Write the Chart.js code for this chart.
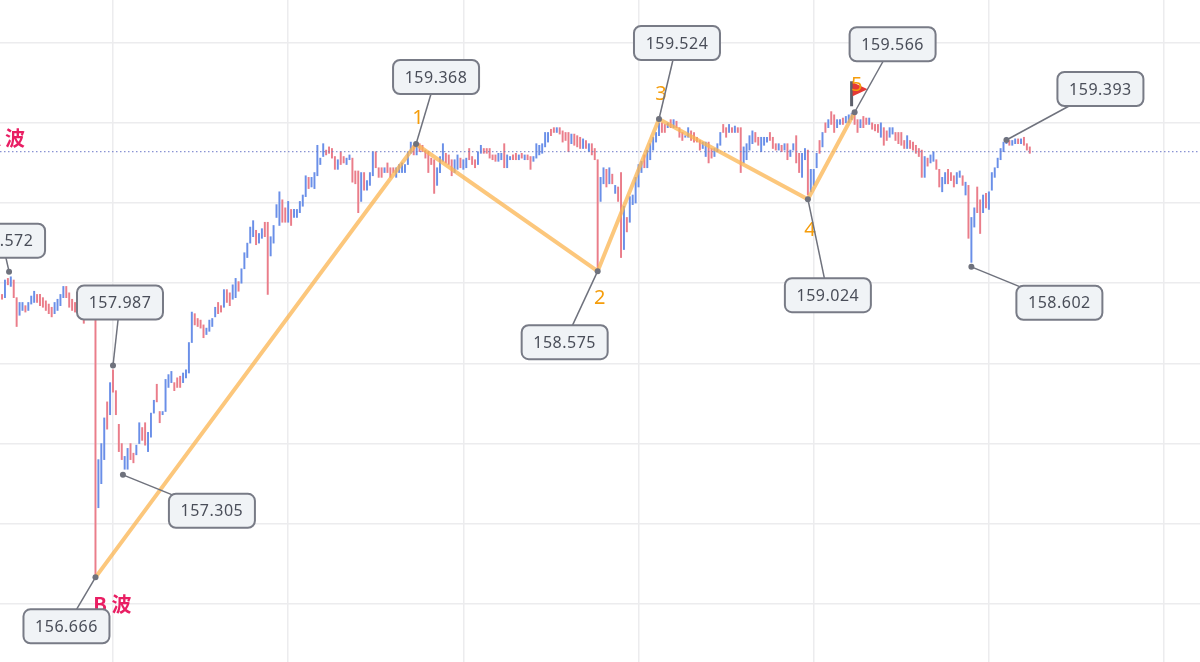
<!DOCTYPE html>
<html>
<head>
<meta charset="utf-8">
<style>
  html, body { margin: 0; padding: 0; background: #fff; overflow: hidden; }
  canvas { display: block; }
</style>
<script src="https://cdn.jsdelivr.net/npm/chart.js@4/dist/chart.umd.min.js"></script>
</head>
<body>
<canvas id="chart" width="1200" height="662"></canvas>
<script>
// candle index of the first bar on screen, one bar per index, each line holds 10 bars
const firstCandle = 22;

const highs = [
  158.43,158.52,158.53,158.54,158.52,158.41,158.38,158.38,158.36,158.38,
  158.42,158.45,158.43,158.43,158.41,158.39,158.37,158.35,158.38,158.40,
  158.43,158.48,158.48,158.44,158.40,158.38,158.37,158.42,158.36,158.36,
  158.38,158.35,158.31,157.40,157.50,157.66,157.76,157.88,157.96,157.83,
  157.62,157.50,157.42,157.47,157.50,157.44,157.49,157.63,157.60,157.63,
  157.57,157.69,157.77,157.87,157.70,157.70,157.90,157.93,157.95,157.88,
  157.91,157.92,157.94,157.96,158.13,158.32,158.31,158.28,158.27,158.24,
  158.22,158.27,158.28,158.35,158.38,158.36,158.46,158.46,158.44,158.49,
  158.53,158.51,158.59,158.69,158.75,158.85,158.89,158.83,158.81,158.84,
  158.88,158.88,158.79,158.86,158.99,159.07,159.02,158.97,159.01,158.96,
  158.96,158.96,159.01,159.05,159.17,159.16,159.16,159.19,159.36,159.28,
  159.37,159.33,159.35,159.34,159.29,159.27,159.32,159.29,159.28,159.30,
  159.28,159.20,159.20,159.19,159.19,159.14,159.19,159.32,159.32,159.22,
  159.22,159.22,159.25,159.22,159.22,159.22,159.24,159.25,159.24,159.32,
  159.38,159.36,159.35,159.37,159.36,159.33,159.32,159.28,159.27,159.22,
  159.29,159.37,159.31,159.30,159.27,159.27,159.30,159.28,159.27,159.28,
  159.34,159.29,159.27,159.32,159.36,159.34,159.34,159.34,159.30,159.30,
  159.31,159.31,159.37,159.30,159.29,159.30,159.31,159.30,159.31,159.30,
  159.30,159.29,159.29,159.37,159.36,159.37,159.44,159.44,159.46,159.47,
  159.47,159.47,159.45,159.44,159.44,159.43,159.43,159.42,159.41,159.40,
  159.39,159.37,159.37,159.34,159.27,159.16,159.22,159.21,159.22,159.18,
  159.11,159.10,159.19,158.98,158.91,159.04,159.05,159.16,159.24,159.26,
  159.30,159.33,159.37,159.41,159.44,159.50,159.50,159.49,159.50,159.52,
  159.52,159.51,159.47,159.44,159.42,159.47,159.45,159.44,159.41,159.39,
  159.38,159.38,159.38,159.34,159.34,159.37,159.44,159.49,159.47,159.49,
  159.47,159.48,159.47,159.47,159.35,159.37,159.42,159.45,159.44,159.41,
  159.41,159.41,159.41,159.44,159.41,159.37,159.37,159.36,159.37,159.37,
  159.33,159.37,159.42,159.31,159.31,159.34,159.33,159.21,159.21,159.31,
  159.39,159.44,159.50,159.52,159.57,159.55,159.52,159.52,159.53,159.54,
  159.55,159.56,159.57,159.52,159.52,159.54,159.53,159.53,159.50,159.49,
  159.49,159.50,159.47,159.45,159.47,159.47,159.44,159.44,159.44,159.39,
  159.42,159.39,159.38,159.36,159.34,159.33,159.29,159.28,159.30,159.32,
  159.27,159.21,159.16,159.19,159.21,159.19,159.17,159.19,159.20,159.17,
  159.13,159.11,158.91,158.97,159.10,159.02,159.05,159.06,159.07,159.19,
  159.22,159.28,159.34,159.38,159.41,159.39,159.39,159.40,159.40,159.40,
  159.41,159.37,159.35
];

const lows = [
  158.40,158.41,158.49,158.48,158.41,158.23,158.30,158.33,158.32,158.33,
  158.37,158.38,158.38,158.36,158.35,158.33,158.31,158.29,158.31,158.33,
  158.36,158.41,158.41,158.35,158.33,158.32,158.32,158.33,158.25,158.28,
  158.30,158.30,156.67,157.10,157.25,157.40,157.59,157.68,157.82,157.68,
  157.45,157.40,157.34,157.34,157.40,157.38,157.43,157.50,157.52,157.49,
  157.45,157.54,157.69,157.76,157.63,157.68,157.70,157.85,157.88,157.83,
  157.85,157.85,157.88,157.91,157.94,158.13,158.24,158.23,158.22,158.16,
  158.18,158.20,158.23,158.29,158.31,158.32,158.35,158.38,158.36,158.40,
  158.41,158.45,158.50,158.59,158.66,158.75,158.79,158.74,158.75,158.78,
  158.79,158.43,158.67,158.75,158.91,158.86,158.88,158.88,158.88,158.86,
  158.91,158.91,158.94,158.98,159.04,159.09,159.10,159.09,159.17,159.24,
  159.29,159.30,159.31,159.28,159.21,159.21,159.24,159.25,159.24,159.27,
  159.13,159.12,158.94,159.01,159.08,159.08,159.11,159.17,159.22,159.16,
  159.16,159.19,159.19,159.16,159.19,159.16,159.19,159.19,159.19,159.24,
  159.31,159.30,159.30,159.32,159.32,159.28,159.19,159.24,159.06,159.11,
  159.19,159.26,159.25,159.24,159.17,159.19,159.21,159.22,159.21,159.22,
  159.27,159.24,159.22,159.24,159.31,159.31,159.31,159.28,159.27,159.26,
  159.26,159.27,159.22,159.22,159.27,159.27,159.27,159.27,159.28,159.27,
  159.27,159.21,159.26,159.28,159.30,159.31,159.35,159.38,159.42,159.44,
  159.44,159.43,159.38,159.39,159.32,159.37,159.36,159.35,159.34,159.34,
  159.34,159.32,159.30,159.27,158.58,159.01,159.12,159.10,159.12,159.12,
  159.06,159.01,158.66,158.71,158.82,158.88,158.99,159.00,159.10,159.19,
  159.22,159.22,159.27,159.33,159.38,159.42,159.44,159.44,159.47,159.47,
  159.47,159.47,159.41,159.39,159.41,159.41,159.39,159.38,159.38,159.33,
  159.34,159.29,159.25,159.28,159.29,159.32,159.36,159.44,159.41,159.44,
  159.44,159.44,159.44,159.19,159.25,159.27,159.33,159.37,159.38,159.36,
  159.32,159.36,159.38,159.39,159.34,159.33,159.33,159.32,159.33,159.27,
  159.29,159.33,159.25,159.19,159.16,159.27,159.05,159.07,159.11,159.22,
  159.31,159.35,159.44,159.47,159.49,159.44,159.47,159.49,159.49,159.50,
  159.50,159.52,159.49,159.44,159.47,159.47,159.49,159.49,159.46,159.45,
  159.44,159.41,159.36,159.39,159.41,159.43,159.39,159.37,159.36,159.34,
  159.34,159.34,159.33,159.31,159.29,159.16,159.16,159.23,159.25,159.26,
  159.21,159.10,159.07,159.12,159.12,159.14,159.10,159.12,159.16,159.11,
  159.05,158.78,158.63,158.85,158.94,158.81,158.94,158.97,158.96,159.08,
  159.16,159.22,159.27,159.32,159.37,159.36,159.36,159.37,159.37,159.37,
  159.36,159.33,159.31
];

// u = up bar, d = down bar
const directions = (
  "dududduudu" + "uudddddduu" + "uudddddudu" + "udduuududd" + "dduudduudd" +
  "uuudduuuud" + "dduuuudddd" + "uuuudduddu" + "uduuuuuduu" + "dduuuuddud" +
  "uuuuuduuuu" + "uddddudduu" + "ddduduuudd" + "duddduuuuu" + "ududdddddu" +
  "uuddduuduu" + "ddduuddddd" + "uuduuddudu" + "dduuuuuudd" + "uddddudddu" +
  "duddduudud" + "udduduuuuu" + "duuuuuddud" + "uddduudddd" + "uudduuuddu" +
  "dudduuuudd" + "uuudddudud" + "uudduuduuu" + "dududduudu" + "uudduddudd" +
  "dudduudddd" + "uddddduduu" + "dduuddduud" + "uduudduduu" + "uuuuuduudu" +
  "ddd"
).split("");

const priceTicks = [156.5, 157, 157.5, 158, 158.5, 159, 159.5, 160];
const timeTicks = [60, 120, 180, 240, 300, 360, 420];
const lastPrice = 159.32;

// wave pivots: index and price
const waveIndex = [54, 163.8, 226, 247, 298, 314];
const wavePrice = [156.666, 159.368, 158.575, 159.524, 159.024, 159.566];

// price callouts: where each one points at
const noteIndex = [24.4, 60, 54, 63.4, 163.8, 226, 247, 298, 314, 366, 354];
const notePrice = [158.572, 157.987, 156.666, 157.305, 159.368, 158.575, 159.524, 159.024, 159.566, 159.393, 158.602];
const noteText = ["158.572", "157.987", "156.666", "157.305", "159.368", "158.575", "159.524", "159.024", "159.566", "159.393", "158.602"];

const waveLabels = ["1", "2", "3", "4", "5"];

const candles = highs.map((h, i) => ({ x: firstCandle + i, y: [lows[i], h] }));
const barColors = directions.map((d) => (d === "u" ? "#6a8fe8" : "#ea7d8a"));

// pixel offsets from each pointed-at spot to the centre of its box
const noteBoxOffset = [
  [-7, -31], [7, -63], [-29, 49], [89, 36], [20, -67], [-33, 71],
  [18, -76], [20, 96], [38, -68], [94, -51], [88, 36],
];

const noteLayer = {
  id: "noteLayer",
  afterDatasetsDraw(chart) {
    const { ctx, scales } = chart;
    const x = scales.x;
    const y = scales.y;
    ctx.save();

    // flag at the top of wave 5
    const fx = x.getPixelForValue(314) - 3;
    const fy = y.getPixelForValue(159.566);
    ctx.strokeStyle = "#5d606b";
    ctx.lineWidth = 3;
    ctx.beginPath();
    ctx.moveTo(fx, fy - 31);
    ctx.lineTo(fx, fy - 6);
    ctx.stroke();
    ctx.fillStyle = "#e53935";
    ctx.beginPath();
    ctx.moveTo(fx + 1, fy - 30);
    ctx.lineTo(fx + 16, fy - 23);
    ctx.lineTo(fx + 1, fy - 16);
    ctx.closePath();
    ctx.fill();

    // wave numbers
    ctx.font = '20px "Noto Sans"';
    ctx.fillStyle = "#f59d0b";
    ctx.textAlign = "center";
    ctx.textBaseline = "middle";
    const waveOffset = [-26, 27, -25, 31, -27];
    waveLabels.forEach((t, i) => {
      ctx.fillText(t, x.getPixelForValue(waveIndex[i + 1]) + 2, y.getPixelForValue(wavePrice[i + 1]) + waveOffset[i]);
    });

    // wave names
    ctx.font = 'bold 20px "Noto Sans CJK SC"';
    ctx.fillStyle = "#e91e63";
    ctx.textAlign = "right";
    ctx.fillText("A 波", x.getPixelForValue(29.9), y.getPixelForValue(159.40));
    ctx.fillText("B 波", x.getPixelForValue(66.3), y.getPixelForValue(156.50));

    // callouts
    ctx.font = '16px "Noto Sans"';
    ctx.letterSpacing = "0.5px";
    ctx.textAlign = "center";
    noteText.forEach((t, i) => {
      const px = x.getPixelForValue(noteIndex[i]);
      const py = y.getPixelForValue(notePrice[i]);
      const cx = px + noteBoxOffset[i][0];
      const cy = py + noteBoxOffset[i][1];
      ctx.strokeStyle = "#6f727d";
      ctx.lineWidth = 1.5;
      ctx.beginPath();
      ctx.moveTo(px, py);
      ctx.lineTo(cx, cy);
      ctx.stroke();
      ctx.fillStyle = "#f0f3f6";
      ctx.strokeStyle = "#787b86";
      ctx.lineWidth = 2;
      ctx.beginPath();
      ctx.roundRect(cx - 43, cy - 17, 86, 34, 7);
      ctx.fill();
      ctx.stroke();
      ctx.fillStyle = "#4a4e59";
      ctx.fillText(t, cx, cy + 1);
    });

    ctx.restore();
  },
};

new Chart(document.getElementById("chart"), {
  type: "bar",
  data: {
    datasets: [
      {
        type: "bar",
        data: candles,
        backgroundColor: barColors,
        barThickness: 1.3,
        order: 3,
      },
      {
        type: "line",
        data: [{ x: 21.3, y: lastPrice }, { x: 432.3, y: lastPrice }],
        borderColor: "#6b78c8",
        borderWidth: 1,
        borderDash: [1.5, 2.5],
        pointRadius: 0,
        order: 2,
      },
      {
        type: "line",
        data: waveIndex.map((x, i) => ({ x, y: wavePrice[i] })),
        borderColor: "rgba(251, 180, 80, 0.75)",
        borderWidth: 4,
        pointRadius: 0,
        tension: 0,
        order: 1,
      },
      {
        type: "line",
        data: noteIndex.map((x, i) => ({ x, y: notePrice[i] })),
        showLine: false,
        pointRadius: 3,
        pointBackgroundColor: "#6f727d",
        pointBorderWidth: 0,
        order: 0,
      },
    ],
  },
  options: {
    responsive: false,
    animation: false,
    layout: { padding: 0, autoPadding: false },
    plugins: { legend: { display: false }, tooltip: { enabled: false } },
    scales: {
      x: {
        type: "linear",
        min: 21.3,
        max: 432.3,
        offset: false,
        afterBuildTicks: (axis) => { axis.ticks = timeTicks.map((value) => ({ value })); },
        grid: { color: "#ececee", lineWidth: 1.5, offset: false, drawTicks: false },
        border: { display: false },
        ticks: { display: false },
      },
      y: {
        type: "linear",
        min: 156.138,
        max: 160.266,
        afterBuildTicks: (axis) => { axis.ticks = priceTicks.map((value) => ({ value })); },
        grid: { color: "#ececee", lineWidth: 1.5, drawTicks: false },
        border: { display: false },
        ticks: { display: false },
      },
    },
  },
  plugins: [noteLayer],
});
</script>
</body>
</html>
